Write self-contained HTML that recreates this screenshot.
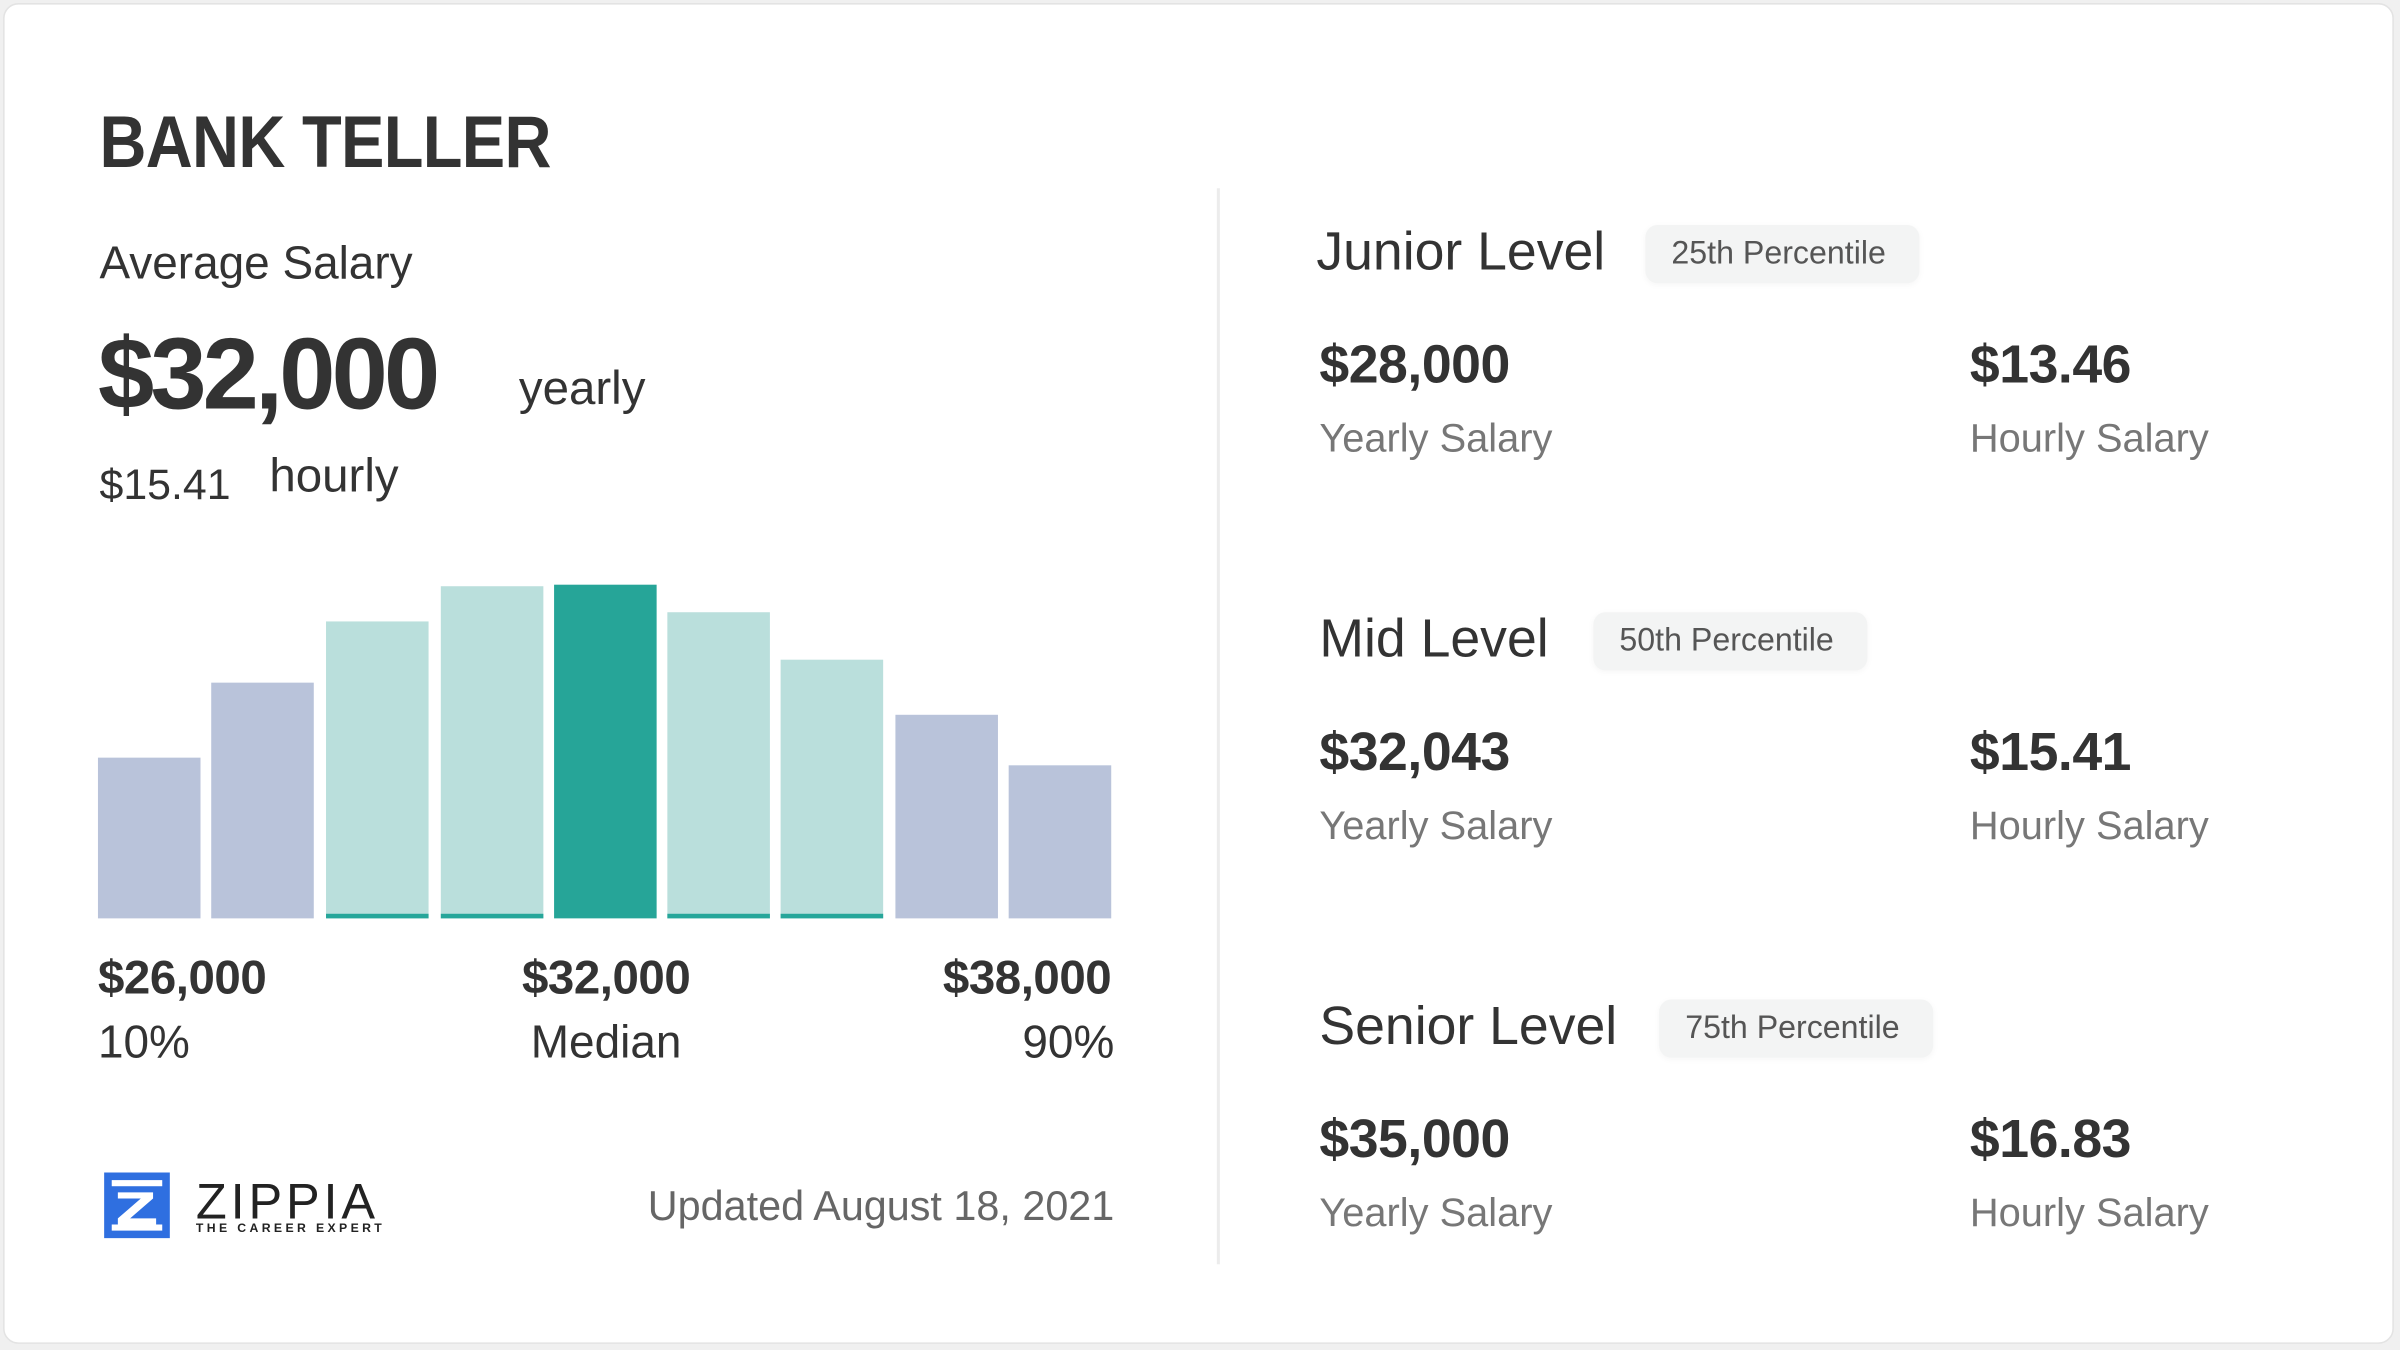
<!DOCTYPE html>
<html><head><meta charset="utf-8"><style>
html,body{margin:0;padding:0;background:#f0f0f0;width:2400px;height:1350px;overflow:hidden}
#s{position:absolute;left:0;top:0;width:1568px;height:882px;transform:scale(1.530612);transform-origin:0 0;font-family:"Liberation Sans",sans-serif;color:#333}
.card{position:absolute;left:2px;top:2px;width:1562px;height:876px;background:#fff;border:1px solid #e3e3e3;border-radius:10px;box-sizing:border-box}
.t{position:absolute;white-space:nowrap;line-height:1}
.bar{position:absolute;bottom:282px;width:67px}
.lv{background:#b9c3da}.lt{background:#badfdc;border-bottom:3px solid #26a69a;box-sizing:border-box}.dk{background:#26a598}
.badge{position:absolute;background:#f3f4f4;border-radius:8px;height:38px;font-size:21px;color:#555;line-height:38px;padding:0 22px 0 17px;box-shadow:0 1px 4px rgba(0,0,0,.04)}
.big{font-size:35px;font-weight:bold;color:#333;letter-spacing:-0.3px}
.sub{font-size:26px;color:#777}
.lvl{font-size:35px;color:#333}
.lab{font-size:31px;font-weight:bold;letter-spacing:-0.3px}
</style></head><body><div id="s">
<div class="card"></div>
<div class="t" style="left:65px;top:70px;font-size:48px;font-weight:bold;letter-spacing:-0.5px;transform:scaleX(0.885);transform-origin:0 0">BANK TELLER</div>
<div class="t" style="left:65px;top:158px;font-size:30px;color:#333">Average Salary</div>
<div class="t" style="left:64px;top:211px;font-size:66px;font-weight:bold;letter-spacing:-2.5px">$32,000</div>
<div class="t" style="left:339px;top:238px;font-size:31px">yearly</div>
<div class="t" style="left:65px;top:303px;font-size:28px">$15.41</div>
<div class="t" style="left:176px;top:295px;font-size:31px">hourly</div>

<div class="bar lv" style="left:64px;height:105px"></div>
<div class="bar lv" style="left:138px;height:154px"></div>
<div class="bar lt" style="left:213px;height:194px"></div>
<div class="bar lt" style="left:288px;height:217px"></div>
<div class="bar dk" style="left:362px;height:218px"></div>
<div class="bar lt" style="left:436px;height:200px"></div>
<div class="bar lt" style="left:510px;height:169px"></div>
<div class="bar lv" style="left:585px;height:133px"></div>
<div class="bar lv" style="left:659px;height:100px"></div>

<div class="t lab" style="left:64px;top:623px">$26,000</div>
<div class="t lab" style="left:296px;width:200px;text-align:center;top:623px">$32,000</div>
<div class="t lab" style="left:526px;width:200px;text-align:right;top:623px">$38,000</div>
<div class="t" style="left:64px;top:667px;font-size:30px">10%</div>
<div class="t" style="left:296px;width:200px;text-align:center;top:667px;font-size:30px">Median</div>
<div class="t" style="left:528px;width:200px;text-align:right;top:667px;font-size:30px">90%</div>

<svg style="position:absolute;left:68px;top:766px" width="43" height="43" viewBox="0 0 43 43">
<rect x="0" y="0" width="43" height="43" fill="#2f6fe0"/>
<rect x="5" y="5" width="33" height="4" fill="#fff"/>
<rect x="5" y="34" width="33" height="4" fill="#fff"/>
<polygon points="9,13 32,13 32,17 17,30 34,30 34,34 9,34 9,30 24,17 9,17" fill="#fff"/>
</svg>
<div class="t" style="left:128px;top:768px;font-size:33px;letter-spacing:2.5px;color:#222">ZIPPIA</div>
<div class="t" style="left:128px;top:799px;font-size:8px;letter-spacing:2.2px;color:#222;font-weight:bold">THE CAREER EXPERT</div>
<div class="t" style="left:328px;width:400px;text-align:right;top:775px;font-size:27px;color:#666">Updated August 18, 2021</div>

<div style="position:absolute;left:795px;top:123px;width:2px;height:703px;background:#ececec"></div>

<div class="t lvl" style="left:860px;top:147px">Junior Level</div>
<div class="badge" style="left:1075px;top:147px">25th Percentile</div>
<div class="t big" style="left:862px;top:221px">$28,000</div>
<div class="t big" style="left:1287px;top:221px">$13.46</div>
<div class="t sub" style="left:862px;top:273px">Yearly Salary</div>
<div class="t sub" style="left:1287px;top:273px">Hourly Salary</div>

<div class="t lvl" style="left:862px;top:400px">Mid Level</div>
<div class="badge" style="left:1041px;top:400px">50th Percentile</div>
<div class="t big" style="left:862px;top:474px">$32,043</div>
<div class="t big" style="left:1287px;top:474px">$15.41</div>
<div class="t sub" style="left:862px;top:526px">Yearly Salary</div>
<div class="t sub" style="left:1287px;top:526px">Hourly Salary</div>

<div class="t lvl" style="left:862px;top:653px">Senior Level</div>
<div class="badge" style="left:1084px;top:653px">75th Percentile</div>
<div class="t big" style="left:862px;top:727px">$35,000</div>
<div class="t big" style="left:1287px;top:727px">$16.83</div>
<div class="t sub" style="left:862px;top:779px">Yearly Salary</div>
<div class="t sub" style="left:1287px;top:779px">Hourly Salary</div>
</div></body></html>
